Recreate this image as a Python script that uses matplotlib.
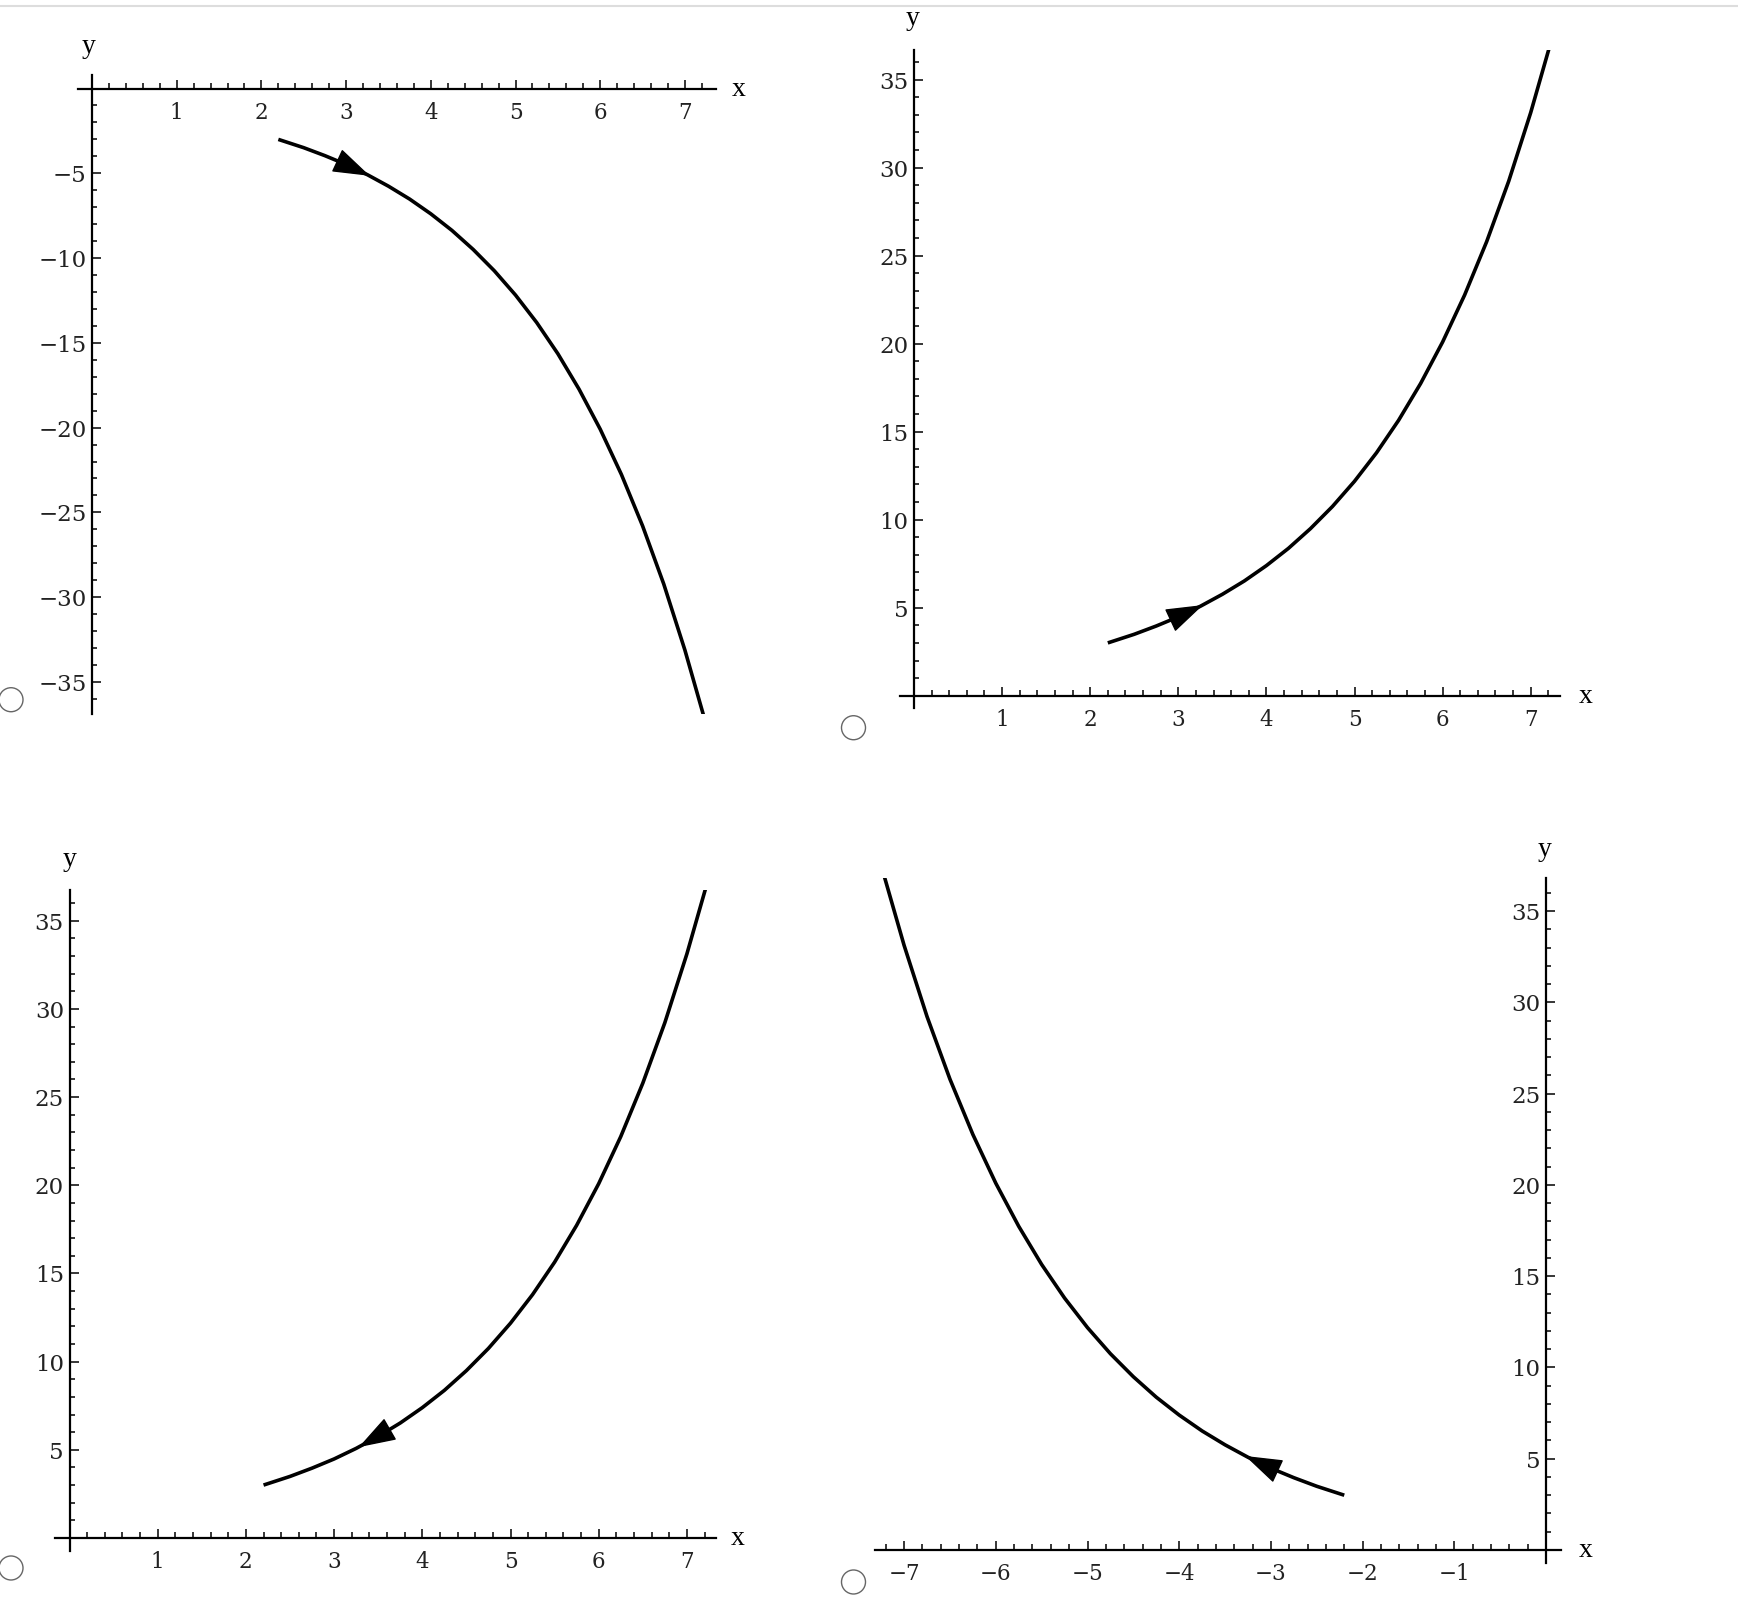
import matplotlib.pyplot as plt
import numpy as np
from matplotlib.patches import Ellipse
from matplotlib.lines import Line2D

# curve (|x|, |y|), same shape in all four panels
curve_x = [2.2, 2.5, 2.75, 3.0, 3.25, 3.5, 3.75, 4.0, 4.25, 4.5, 4.75, 5.0,
           5.25, 5.5, 5.75, 6.0, 6.25, 6.5, 6.75, 7.0, 7.22]
curve_y = [3.0, 3.49, 3.96, 4.48, 5.08, 5.76, 6.52, 7.39, 8.37, 9.49, 10.75, 12.18,
           13.8, 15.64, 17.73, 20.09, 22.76, 25.79, 29.22, 33.12, 36.97]

# arrow tail -> tip, per panel (x, y)
arrow_tail = [(2.86, -4.17), (2.86, 4.17), (3.70, 6.36), (-2.86, 4.17)]
arrow_tip = [(3.28, -5.15), (3.28, 5.15), (3.28, 5.15), (-3.28, 5.15)]

# sign of x and y for each panel
sx = [1, 1, 1, -1]
sy = [-1, 1, 1, 1]

x_major = [1, 2, 3, 4, 5, 6, 7]
y_major = [5, 10, 15, 20, 25, 30, 35]

W, H = 1738, 1608
fig = plt.figure(figsize=(W / 100, 16.085), dpi=100)

# pixel layout: x0, unit_x, y0, unit_y, xlim, ylim
layout = [
    (92, 84.7, 89, 16.95, (-0.17, 7.37), (-36.9, 0.77)),
    (914, 88.1, 696, 17.6, (-0.16, 7.33), (-0.7, 36.7)),
    (69.5, 88.2, 1538, 17.63, (-0.17, 7.33), (-0.72, 36.75)),
    (1546, 91.7, 1550, 18.25, (-7.32, 0.16), (-0.7, 36.8)),
]
# axis label positions (data coords)
xlab_pos = [(7.64, 0), (7.62, 0), (7.58, 0), (0.43, 0)]
ylab_pos = [(-0.04, 2.5), (-0.02, 38.5), (0.0, 38.5), (-0.02, 38.4)]

serif = 'Liberation Serif'
tickfont = 'DejaVu Serif'

for i, (x0, ux, y0, uy, xl, yl) in enumerate(layout):
    left = x0 + xl[0] * ux
    width = (xl[1] - xl[0]) * ux
    top = y0 - yl[1] * uy
    height = (yl[1] - yl[0]) * uy
    ax = fig.add_axes([left / W, (H - top - height) / H, width / W, height / H])
    ax.set_xlim(*xl)
    ax.set_ylim(*yl)
    ax.patch.set_alpha(0)

    for s in ['top', 'right']:
        ax.spines[s].set_visible(False)
    for s in ['left', 'bottom']:
        ax.spines[s].set_position(('data', 0))
        ax.spines[s].set_linewidth(1.6)

    xs = [sx[i] * v for v in x_major]
    ys = [sy[i] * v for v in y_major]
    ax.set_xticks(xs)
    ax.set_xticklabels([str(v).replace('-', '\u2212') for v in xs],
                       fontfamily=tickfont, fontsize=15.5, color='#222222')
    ax.set_yticks(ys)
    ax.set_yticklabels([str(v).replace('-', '\u2212') for v in ys],
                       fontfamily=tickfont, fontsize=16.5, color='#222222')
    ax.set_xticks([sx[i] * v / 5 for v in range(1, 37) if v % 5], minor=True)
    ax.set_yticks([sy[i] * v for v in range(1, 37) if v % 5], minor=True)
    ax.tick_params(axis='x', which='major', direction='in', length=6.5, width=1.1, pad=9)
    ax.tick_params(axis='x', which='minor', direction='in', length=4.2, width=1.1)
    ax.tick_params(axis='y', which='major', direction='in', length=6.5, width=1.1, pad=4)
    ax.tick_params(axis='y', which='minor', direction='in', length=3.6, width=1.1)

    ax.plot([sx[i] * v for v in curve_x], [sy[i] * v for v in curve_y],
            color='black', lw=2.6, solid_capstyle='butt')
    ax.annotate('', xy=arrow_tip[i], xytext=arrow_tail[i],
                arrowprops=dict(arrowstyle='-|>,head_length=1.2,head_width=0.4',
                                mutation_scale=20, color='black', lw=1,
                                shrinkA=0, shrinkB=0))

    ax.text(*xlab_pos[i], 'x', fontfamily=serif, fontsize=20, ha='center', va='center')
    ax.text(*ylab_pos[i], 'y', fontfamily=serif, fontsize=20, ha='center', va='center')

# radio buttons and the thin rule at the top
for cx, cy in [(11, 700), (853.5, 728), (11, 1568), (853.5, 1582)]:
    fig.add_artist(Ellipse((cx / W, 1 - cy / H), 24 / W, 24 / H, transform=fig.transFigure,
                           fill=False, ec='#666666', lw=1))
fig.add_artist(Line2D([0, 1], [1 - 6.7 / H] * 2, color='#dddddd', lw=1.5))

fig.savefig('out.png', dpi=100)
